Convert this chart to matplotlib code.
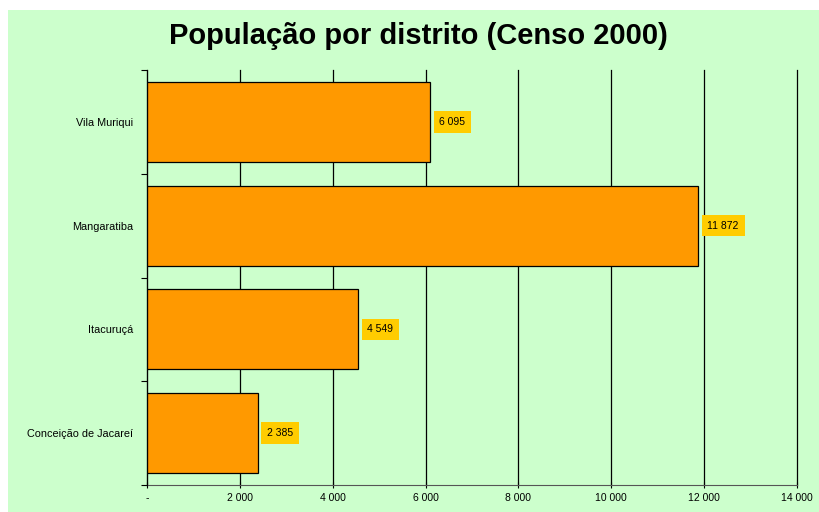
import matplotlib.pyplot as plt
from matplotlib.patches import Rectangle

plt.rcParams['font.family'] = ['Liberation Sans', 'DejaVu Sans']

distritos = ['Vila Muriqui', 'Mangaratiba', 'Itacuruçá', 'Conceição de Jacareí']
populacao = [6095, 11872, 4549, 2385]
xticks = [0, 2000, 4000, 6000, 8000, 10000, 12000, 14000]


def fmt(v):
    if v == 0:
        return '-'
    return '{:,}'.format(v).replace(',', ' ')


W, H = 819, 512
fig = plt.figure(figsize=(W / 100, H / 100), dpi=100, facecolor='white')
fig.patches.append(Rectangle((8 / W, 0), 1, (H - 10) / H, transform=fig.transFigure,
                             facecolor='#ccffcc', edgecolor='none', zorder=-10))

ax = fig.add_axes([147 / W, (H - 485) / H, (797 - 147) / W, (485 - 70) / H])
ax.set_facecolor('#ccffcc')

ypos = list(range(len(distritos)))
ax.barh(ypos, populacao, height=0.77, color='#ff9900', edgecolor='black', linewidth=0.9, zorder=3)

for y, v in zip(ypos, populacao):
    ax.text(v + 200, y, fmt(v), va='center', ha='left', fontsize=7.5, zorder=4,
            bbox=dict(boxstyle='square,pad=0.55', facecolor='#ffcc00', edgecolor='none'))

ax.set_xlim(0, 14000)
ax.set_ylim(len(distritos) - 0.5, -0.5)
ax.set_xticks(xticks)
ax.set_xticklabels([fmt(v) for v in xticks], fontsize=7.5)
ax.set_yticks(ypos)
ax.set_yticklabels(distritos, fontsize=7.8)
ax.set_yticks([i - 0.5 for i in range(len(distritos) + 1)], minor=True)
ax.tick_params(axis='y', which='major', length=0, pad=10)
ax.tick_params(axis='y', which='minor', length=4, direction='out', width=0.8)
ax.tick_params(axis='x', length=4, direction='inout', width=0.8, pad=4)

ax.grid(axis='x', color='black', linewidth=0.9, zorder=1)
for gl in ax.get_xgridlines():
    gl.set_clip_on(False)
ax.set_axisbelow(True)
for s in ['top', 'right']:
    ax.spines[s].set_visible(False)
ax.spines['left'].set_color('black')
ax.spines['left'].set_zorder(5)
ax.spines['bottom'].set_color('#555555')

fig.text(418 / W, 1 - 36 / H, 'População por distrito (Censo 2000)', ha='center', va='center',
         fontsize=21, fontweight='bold')

fig.savefig('out.png', dpi=100, facecolor=fig.get_facecolor())
